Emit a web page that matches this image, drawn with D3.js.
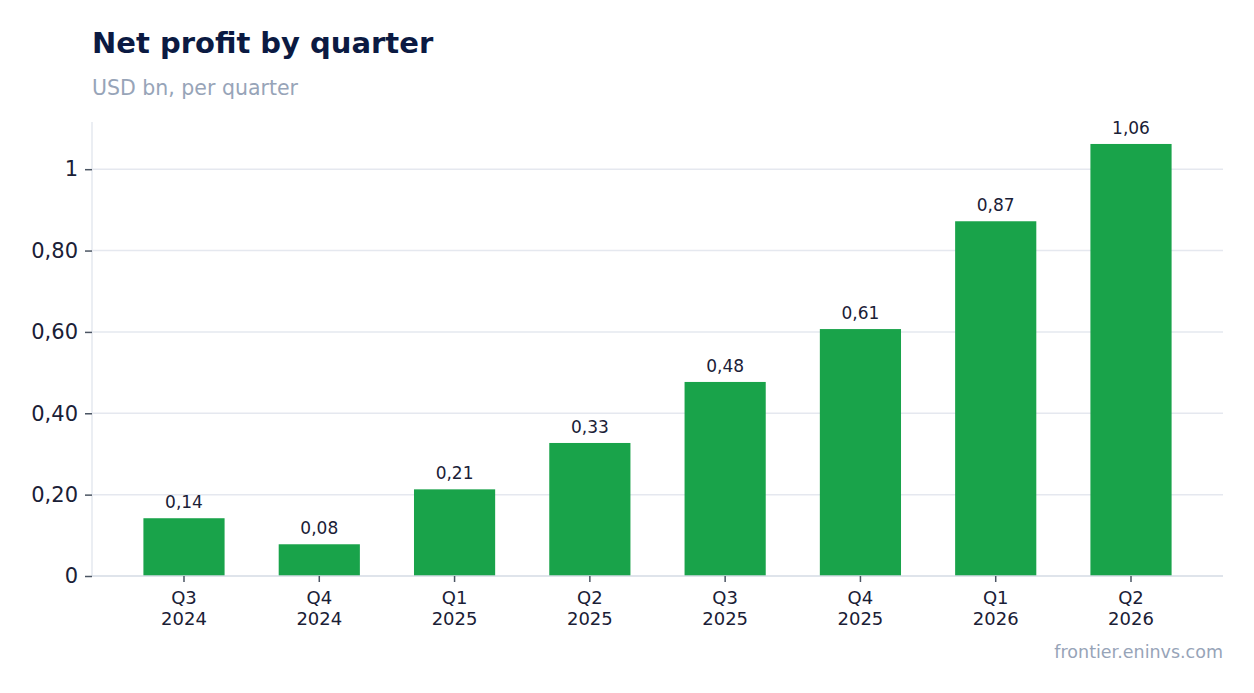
<!DOCTYPE html>
<html><head><meta charset="utf-8">
<script src="https://cdn.jsdelivr.net/npm/d3@7"></script>
<style>
html,body{margin:0;padding:0;background:#fff;}
svg{display:block;font-family:"DejaVu Sans",sans-serif;}
</style></head>
<body><svg id="chart" width="1254" height="693"></svg>
<script>
const quarters = ["Q3", "Q4", "Q1", "Q2", "Q3", "Q4", "Q1", "Q2"];
const years = ["2024", "2024", "2025", "2025", "2025", "2025", "2026", "2026"];
const profit = [0.142, 0.078, 0.213, 0.327, 0.477, 0.607, 0.872, 1.062];
const yTicks = [0, 0.2, 0.4, 0.6, 0.8, 1];

const svg = d3.select("#chart");
const W = 1254, H = 693;
const m = {left: 92, right: 31, top: 122, bottom: 117};
const x0 = m.left, x1 = W - m.right, yTop = m.top, yBot = H - m.bottom;

const x = d3.scaleBand().domain(d3.range(quarters.length)).range([x0, x1]).paddingInner(0.4).paddingOuter(0.38);
const y = d3.scaleLinear().domain([0, 1.116]).range([yBot, yTop]);

const fmt = v => Number.isInteger(v) ? String(v) : v.toFixed(2).replace(".", ",");

svg.append("text").attr("x", 92).attr("y", 53).attr("font-size", 29).attr("font-weight", "bold")
  .attr("fill", "#0b1a42").text("Net profit by quarter");
svg.append("text").attr("x", 92).attr("y", 95).attr("font-size", 20.5)
  .attr("fill", "#97a4b8").text("USD bn, per quarter");

// gridlines
svg.append("g").selectAll("line").data(yTicks.filter(t => t > 0)).join("line")
  .attr("x1", x0).attr("x2", x1).attr("y1", d => y(d)).attr("y2", d => y(d))
  .attr("stroke", "#e5e8ef").attr("stroke-width", 1.5);

// left axis line
svg.append("line").attr("x1", x0).attr("x2", x0).attr("y1", yTop).attr("y2", yBot)
  .attr("stroke", "#e5e8ef").attr("stroke-width", 1.5);

// y axis
const yAxis = svg.append("g").attr("transform", `translate(${x0},0)`)
  .call(d3.axisLeft(y).tickValues(yTicks).tickFormat(fmt).tickSize(7).tickPadding(7));
yAxis.select(".domain").remove();
yAxis.selectAll(".tick line").attr("stroke", "#4b5563").attr("stroke-width", 1.5);
yAxis.selectAll(".tick text").attr("font-size", 21).attr("fill", "#1a2036").attr("font-family", "DejaVu Sans");

// bars
svg.append("g").selectAll("rect").data(profit).join("rect")
  .attr("x", (d, i) => x(i)).attr("width", x.bandwidth())
  .attr("y", d => y(d)).attr("height", d => y(0) - y(d))
  .attr("fill", "#19a34a");

// value labels
svg.append("g").selectAll("text").data(profit).join("text")
  .attr("x", (d, i) => x(i) + x.bandwidth() / 2).attr("y", d => y(d) - 10)
  .attr("text-anchor", "middle").attr("font-size", 17).attr("fill", "#1a2036")
  .text(d => fmt(+d.toFixed(2)));

// x axis baseline
svg.append("line").attr("x1", x0).attr("x2", x1).attr("y1", yBot).attr("y2", yBot)
  .attr("stroke", "#d5dbe5").attr("stroke-width", 1.5);

const xAxis = svg.append("g").attr("transform", `translate(0,${yBot})`)
  .call(d3.axisBottom(x).tickSize(6).tickFormat(""));
xAxis.select(".domain").remove();
xAxis.selectAll(".tick line").attr("stroke", "#4b5563").attr("stroke-width", 1.5);

const xl = svg.append("g").selectAll("text").data(quarters).join("text")
  .attr("x", (d, i) => x(i) + x.bandwidth() / 2).attr("y", yBot + 28)
  .attr("text-anchor", "middle").attr("font-size", 18).attr("fill", "#1a2036");
xl.append("tspan").attr("x", (d, i) => x(i) + x.bandwidth() / 2).text(d => d);
xl.append("tspan").attr("x", (d, i) => x(i) + x.bandwidth() / 2).attr("dy", 21).text((d, i) => years[i]);

svg.append("text").attr("x", x1).attr("y", 658).attr("text-anchor", "end")
  .attr("font-size", 17.5).attr("fill", "#97a4b8").text("frontier.eninvs.com");
</script></body></html>
